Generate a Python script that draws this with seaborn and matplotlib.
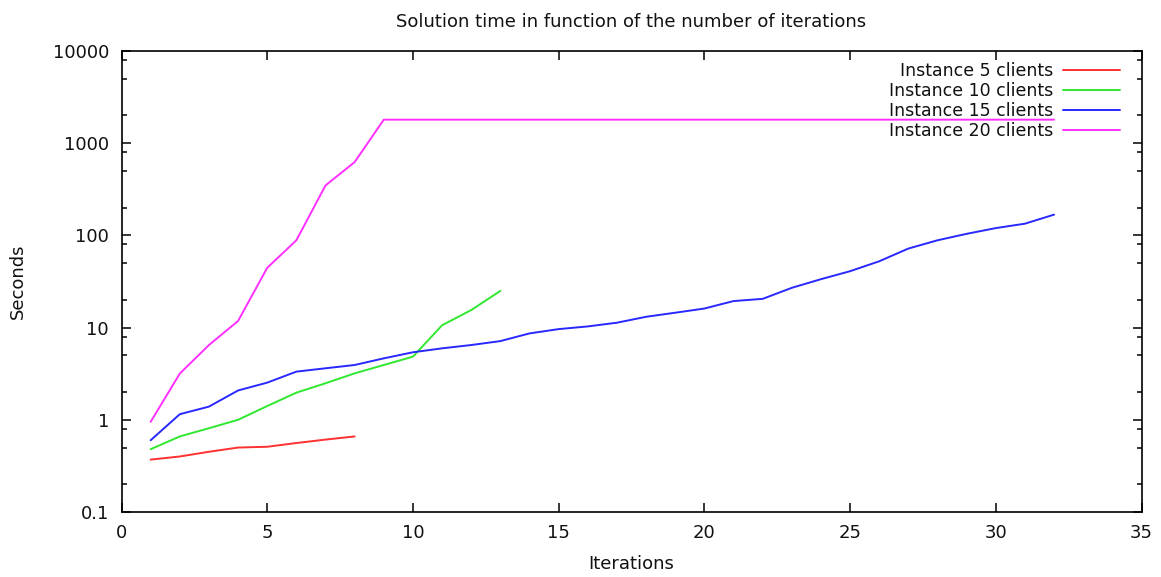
import matplotlib
matplotlib.use("Agg")
import matplotlib.pyplot as plt
from matplotlib.ticker import LogLocator, FixedLocator, NullFormatter, FuncFormatter
from matplotlib.lines import Line2D
import seaborn as sns
import pandas as pd

# ---- data ----
iters_5 = [1, 2, 3, 4, 5, 6, 7, 8]
secs_5 = [0.37, 0.40, 0.45, 0.50, 0.51, 0.56, 0.61, 0.66]

iters_10 = [1, 2, 3, 4, 5, 6, 7, 8, 9, 10, 11, 12, 13]
secs_10 = [0.48, 0.66, 0.81, 1.0, 1.41, 1.97, 2.49, 3.19, 3.93, 4.84, 10.6, 15.5, 25.0]

iters_15 = list(range(1, 33))
secs_15 = [0.60, 1.15, 1.39, 2.08, 2.53, 3.33, 3.62, 3.93, 4.64, 5.40,
           5.96, 6.47, 7.14, 8.65, 9.63, 10.3, 11.3, 13.1, 14.5, 16.1,
           19.4, 20.5, 27.0, 33.5, 40.9, 52.4, 72.0, 88.5, 104, 120,
           134, 168]

iters_20 = list(range(1, 33))
secs_20 = [0.95, 3.17, 6.47, 11.8, 44.5, 88.5, 348, 624] + [1800] * 24

labels = ["Instance 5 clients", "Instance 10 clients",
          "Instance 15 clients", "Instance 20 clients"]
colors = ["#ff3030", "#30e830", "#2828ff", "#ff30ff"]

x_ticks = [0, 5, 10, 15, 20, 25, 30, 35]
y_ticks = [0.1, 1, 10, 100, 1000, 10000]
y_tick_labels = ["0.1", "1", "10", "100", "1000", "10000"]

title = "Solution time in function of the number of iterations"
x_label = "Iterations"
y_label = "Seconds"

# ---- frame ----
frames = []
for lab, xs, ys in zip(labels, [iters_5, iters_10, iters_15, iters_20],
                       [secs_5, secs_10, secs_15, secs_20]):
    frames.append(pd.DataFrame({"Iterations": xs, "Seconds": ys, "Series": lab}))
df = pd.concat(frames, ignore_index=True)

sns.set_theme(style="white")
plt.rcParams["font.family"] = ["DejaVu Sans"]

fig = plt.figure(figsize=(11.61, 5.77), dpi=100)
W, H = 1161, 577
L, R, T, B = 121.5, 1141.5, 51, 512
ax = fig.add_axes([L / W, 1 - B / H, (R - L) / W, (B - T) / H])

sns.lineplot(data=df, x="Iterations", y="Seconds", hue="Series",
             palette=dict(zip(labels, colors)), hue_order=labels,
             linewidth=1.4, ax=ax, legend=False, sort=False)

ax.set_yscale("log")
ax.set_xlim(0, 35)
ax.set_ylim(0.1, 10000)
ax.xaxis.set_major_locator(FixedLocator(x_ticks))
ax.yaxis.set_major_locator(FixedLocator(y_ticks))
ax.yaxis.set_major_formatter(FuncFormatter(
    lambda v, p: y_tick_labels[y_ticks.index(v)] if v in y_ticks else ""))
ax.yaxis.set_minor_locator(LogLocator(base=10, subs=(2.0, 5.0, 8.0), numticks=20))
ax.yaxis.set_minor_formatter(NullFormatter())

for s in ax.spines.values():
    s.set_color("black")
    s.set_linewidth(1.2)

ax.tick_params(axis="both", which="major", direction="in", length=6.5, width=1.1,
               color="black", top=True, right=True, bottom=True, left=True,
               labelsize=13, labelcolor="#111111", pad=9)
ax.tick_params(axis="y", which="minor", direction="in", length=3.3, width=1.1,
               color="black", left=True, right=True)
ax.tick_params(axis="x", which="minor", bottom=False, top=False)

ax.set_title(title, fontsize=13, pad=17.5, color="#111111")
ax.set_xlabel(x_label, fontsize=13, labelpad=9, color="#111111")
ax.set_ylabel(y_label, fontsize=13, color="#111111")
ax.yaxis.set_label_coords(-0.093, 0.5)

# legend: text right-aligned, sample line on right
handles = [Line2D([], [], color=c, linewidth=1.4) for c in colors]
leg = ax.legend(handles, labels, loc="upper right",
                bbox_to_anchor=((1120 - L) / (R - L), (B - 62) / (B - T)),
                frameon=False, markerfirst=False, fontsize=12.5,
                handlelength=3.3, handletextpad=0.55, labelspacing=0.12,
                borderpad=0, borderaxespad=0)
for t in leg.get_texts():
    t.set_color("#111111")

fig.savefig("out.png", dpi=100)
